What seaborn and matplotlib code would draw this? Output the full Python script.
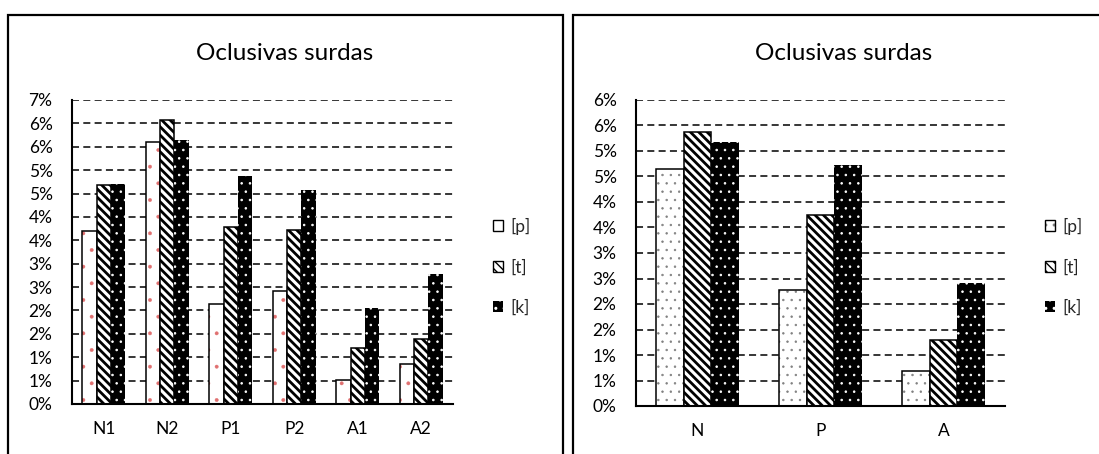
import numpy as np
import pandas as pd
import matplotlib
matplotlib.use("Agg")
import matplotlib.pyplot as plt
import matplotlib.patches as mpatches
from matplotlib.colors import to_rgba
import seaborn as sns

# ---- data ----
sounds = ["[p]", "[t]", "[k]"]

left_categories = ["N1", "N2", "P1", "P2", "A1", "A2"]
left_p = [3.70, 5.60, 2.14, 2.42, 0.51, 0.86]
left_t = [4.68, 6.07, 3.78, 3.72, 1.20, 1.39]
left_k = [4.70, 5.65, 4.88, 4.58, 2.06, 2.78]
left_ytick_labels = ["0%", "1%", "1%", "2%", "2%", "3%", "3%", "4%", "4%",
                     "5%", "5%", "6%", "6%", "7%"]

right_categories = ["N", "P", "A"]
right_p = [4.65, 2.28, 0.68]
right_t = [5.38, 3.75, 1.30]
right_k = [5.18, 4.73, 2.42]
right_ytick_labels = ["0%", "1%", "1%", "2%", "2%", "3%", "3%", "4%", "4%",
                      "5%", "5%", "6%", "6%"]

title_text = "Oclusivas surdas"

sns.set_theme(style="white")
plt.rcParams["font.family"] = ["Lato", "DejaVu Sans"]
plt.rcParams["hatch.linewidth"] = 1.0

FS = 12.5
W, H = 1099, 454
fig = plt.figure(figsize=(W / 100, H / 100), dpi=100)


def fx(px):
    return px / W


def fy(py):
    return 1 - py / H


def set_hatch_lw(patch, lw):
    if hasattr(patch, "set_hatch_linewidth"):
        patch.set_hatch_linewidth(lw)
    else:
        patch._hatch_linewidth = lw


def style_bars(ax, p_dot_color, p_hatch, p_lw):
    conts = ax.containers
    for b in conts[0]:
        b.set_facecolor("white")
        b.set_edgecolor("black")
        b.set_linewidth(1.1)
        b.set_hatch(p_hatch)
        b._hatch_color = to_rgba(p_dot_color)
        set_hatch_lw(b, p_lw)
    for b in conts[1]:
        b.set_facecolor("white")
        b.set_edgecolor("black")
        b.set_linewidth(1.1)
        b.set_hatch("\\\\\\\\")
        set_hatch_lw(b, 2.0)
    for b in conts[2]:
        b.set_facecolor("black")
        b.set_edgecolor("white")
        b.set_linewidth(0)
        b.set_hatch("..")
        set_hatch_lw(b, 0.6)


def make_panel(rect, cats, p, t, k, ymax, ylabels, p_dot_color, p_hatch, p_lw):
    ax = fig.add_axes(rect)
    df = pd.DataFrame({
        "cat": np.repeat(cats, 3),
        "sound": sounds * len(cats),
        "val": [v for trio in zip(p, t, k) for v in trio],
    })
    sns.barplot(data=df, x="cat", y="val", hue="sound", hue_order=sounds,
                order=cats, width=0.68, ax=ax, legend=False,
                palette=["white", "white", "black"], saturation=1)
    style_bars(ax, p_dot_color, p_hatch, p_lw)
    ax.set_ylim(0, ymax)
    ticks = np.arange(0, ymax + 0.001, 0.5)
    ax.set_yticks(ticks)
    ax.set_yticklabels(ylabels)
    ax.set_xlabel("")
    ax.set_ylabel("")
    ax.set_axisbelow(True)
    ax.yaxis.grid(True, color="black", linewidth=1.1,
                  linestyle=(0, (4.6, 2.8)))
    ax.xaxis.grid(False)
    for s in ["top", "right"]:
        ax.spines[s].set_visible(False)
    for s in ["left", "bottom"]:
        ax.spines[s].set_visible(True)
        ax.spines[s].set_color("black")
        ax.spines[s].set_linewidth(1.5)
    ax.tick_params(axis="y", length=0, pad=14, labelsize=FS, labelcolor="black")
    ax.tick_params(axis="x", length=0, pad=12, labelsize=FS, labelcolor="black")
    ax.set_facecolor("white")
    return ax


ax1 = make_panel([fx(72), fy(404), fx(453) - fx(72), fy(100) - fy(404)],
                 left_categories, left_p, left_t, left_k, 6.5,
                 left_ytick_labels, "#e07070", ".", 0.3)
ax2 = make_panel([fx(636), fy(406), fx(1005) - fx(636), fy(100) - fy(406)],
                 right_categories, right_p, right_t, right_k, 6.0,
                 right_ytick_labels, "#808080", "..", 0.5)

fig.text(fx(285), fy(53), title_text, ha="center", va="center", fontsize=17.5,
         color="black")
fig.text(fx(844), fy(53), title_text, ha="center", va="center", fontsize=17.5,
         color="black")


def legend_handles(p_dot_color, p_hatch):
    hp = mpatches.Patch(facecolor="white", edgecolor="black", hatch=p_hatch,
                        linewidth=1.0)
    hp._hatch_color = to_rgba(p_dot_color)
    ht = mpatches.Patch(facecolor="white", edgecolor="black", hatch="\\\\\\\\",
                        linewidth=1.0)
    hk = mpatches.Patch(facecolor="black", edgecolor="white", hatch="..",
                        linewidth=0)
    return [hp, ht, hk]


for hx, col, ph in [(493, "#e07070", "."), (1045, "#808080", "..")]:
    fig.legend(handles=legend_handles(col, ph), labels=sounds,
               loc="center left", bbox_to_anchor=(fx(hx), fy(267)),
               frameon=False, fontsize=FS, handlelength=0.6,
               handleheight=0.6, handletextpad=0.4, labelspacing=1.4,
               borderpad=0, borderaxespad=0)

# chart frames
fig.add_artist(mpatches.Rectangle((fx(8), -0.2), fx(563) - fx(8), fy(15) + 0.2,
                                  transform=fig.transFigure, fill=False,
                                  edgecolor="black", linewidth=1.6))
fig.add_artist(mpatches.Rectangle((fx(573), -0.2), 0.6, fy(15) + 0.2,
                                  transform=fig.transFigure, fill=False,
                                  edgecolor="black", linewidth=1.6))

fig.savefig("out.png", dpi=100, facecolor="white")
